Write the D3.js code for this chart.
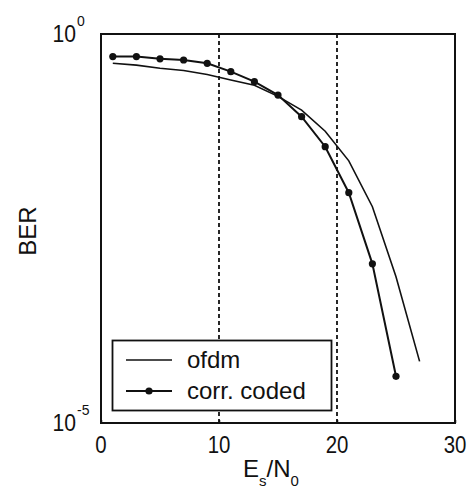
<!DOCTYPE html>
<html><head><meta charset="utf-8">
<script src="https://cdn.jsdelivr.net/npm/d3@7"></script>
<style>body{margin:0;background:#fff;} text{font-family:"Liberation Sans",Arial,sans-serif;fill:#111;}</style>
</head><body>
<svg id="c" width="469" height="496"></svg>
<script>
const snrOfdm = [1,3,5,7,9,11,13,15,17,19,21,23,25,27];
const berOfdm = [0.42,0.398,0.363,0.339,0.302,0.257,0.219,0.158,0.105,0.0562,0.0234,0.00603,0.00076,0.000062];
const snrCoded = [1,3,5,7,9,11,13,15,17,19,21,23,25];
const berCoded = [0.513,0.513,0.479,0.463,0.420,0.328,0.244,0.164,0.0865,0.0356,0.00912,0.00111,0.0000398];
const xTicks = [0,10,20,30];
const yTicks = [{v:1, exp:"0"},{v:1e-5, exp:"-5"}];
const vLines = [10,20];
const legendLabels = ["ofdm","corr. coded"];

const svg = d3.select("#c");
const L=101,R=455,T=34,B=423;
const x = d3.scaleLinear().domain([0,30]).range([L,R]);
const y = d3.scaleLog().domain([1e-5,1]).range([B,T]);

// dashed verticals
svg.selectAll("line.v").data(vLines).enter().append("line")
  .attr("x1",d=>x(d)).attr("x2",d=>x(d)).attr("y1",T).attr("y2",B)
  .attr("stroke","#111").attr("stroke-width",1.8).attr("stroke-dasharray","4,3");

// x axis ticks (inward)
const xAxis = d3.axisBottom(x).tickValues(xTicks).tickSize(-3).tickFormat("").tickSizeOuter(0);
const gx = svg.append("g").attr("transform",`translate(0,${B})`).call(xAxis);
gx.select(".domain").remove();
gx.selectAll("line").attr("stroke","#111").attr("stroke-width",1.5);
svg.selectAll("text.xt").data(xTicks).enter().append("text")
  .attr("x",d=>x(d)).attr("y",453).attr("text-anchor","middle")
  .attr("font-size",24).attr("transform",d=>`translate(${x(d)},0) scale(0.85,1) translate(${-x(d)},0)`).text(d=>d);

// y labels
yTicks.forEach(t=>{
  const g = svg.append("text").attr("x",76).attr("y",y(t.v)+8).attr("text-anchor","end")
    .attr("font-size",24).attr("transform",`translate(76,0) scale(0.88,1) translate(-76,0)`).text("10");
  svg.append("text").attr("x",77).attr("y",y(t.v)-8).attr("font-size",14).text(t.exp);
});

// frame
svg.append("rect").attr("x",L).attr("y",T).attr("width",R-L).attr("height",B-T)
  .attr("fill","none").attr("stroke","#111").attr("stroke-width",2);

const line = d3.line().x(d=>x(d[0])).y(d=>y(d[1]));
const ofdm = snrOfdm.map((s,i)=>[s,berOfdm[i]]);
const coded = snrCoded.map((s,i)=>[s,berCoded[i]]);
svg.append("path").datum(ofdm).attr("d",line).attr("fill","none").attr("stroke","#111").attr("stroke-width",1.6);
svg.append("path").datum(coded).attr("d",line).attr("fill","none").attr("stroke","#111").attr("stroke-width",2);
svg.selectAll("circle.m").data(coded).enter().append("circle")
  .attr("cx",d=>x(d[0])).attr("cy",d=>y(d[1])).attr("r",3.6).attr("fill","#111");

// legend
const lg = svg.append("g");
lg.append("rect").attr("x",112.5).attr("y",340.5).attr("width",219).attr("height",70)
  .attr("fill","#fff").attr("stroke","#111").attr("stroke-width",1.8);
const ly=[360,391];
legendLabels.forEach((lab,i)=>{
  lg.append("line").attr("x1",126).attr("x2",172).attr("y1",ly[i]).attr("y2",ly[i])
    .attr("stroke","#111").attr("stroke-width",i?2:1.6);
  if(i) lg.append("circle").attr("cx",149).attr("cy",ly[i]).attr("r",3.6).attr("fill","#111");
  lg.append("text").attr("x",187).attr("y",ly[i]+8).attr("font-size",24).text(lab);
});

// axis titles
const xt = svg.append("text").attr("x",243).attr("y",477).attr("font-size",24);
xt.append("tspan").text("E");
xt.append("tspan").attr("dy",9).attr("font-size",15).text("s");
xt.append("tspan").attr("dy",-9).text("/N");
xt.append("tspan").attr("dy",9).attr("font-size",15).text("0");
svg.append("text").attr("transform","translate(36,231) rotate(-90)").attr("text-anchor","middle")
  .attr("font-size",24).text("BER");
</script>
</body></html>
